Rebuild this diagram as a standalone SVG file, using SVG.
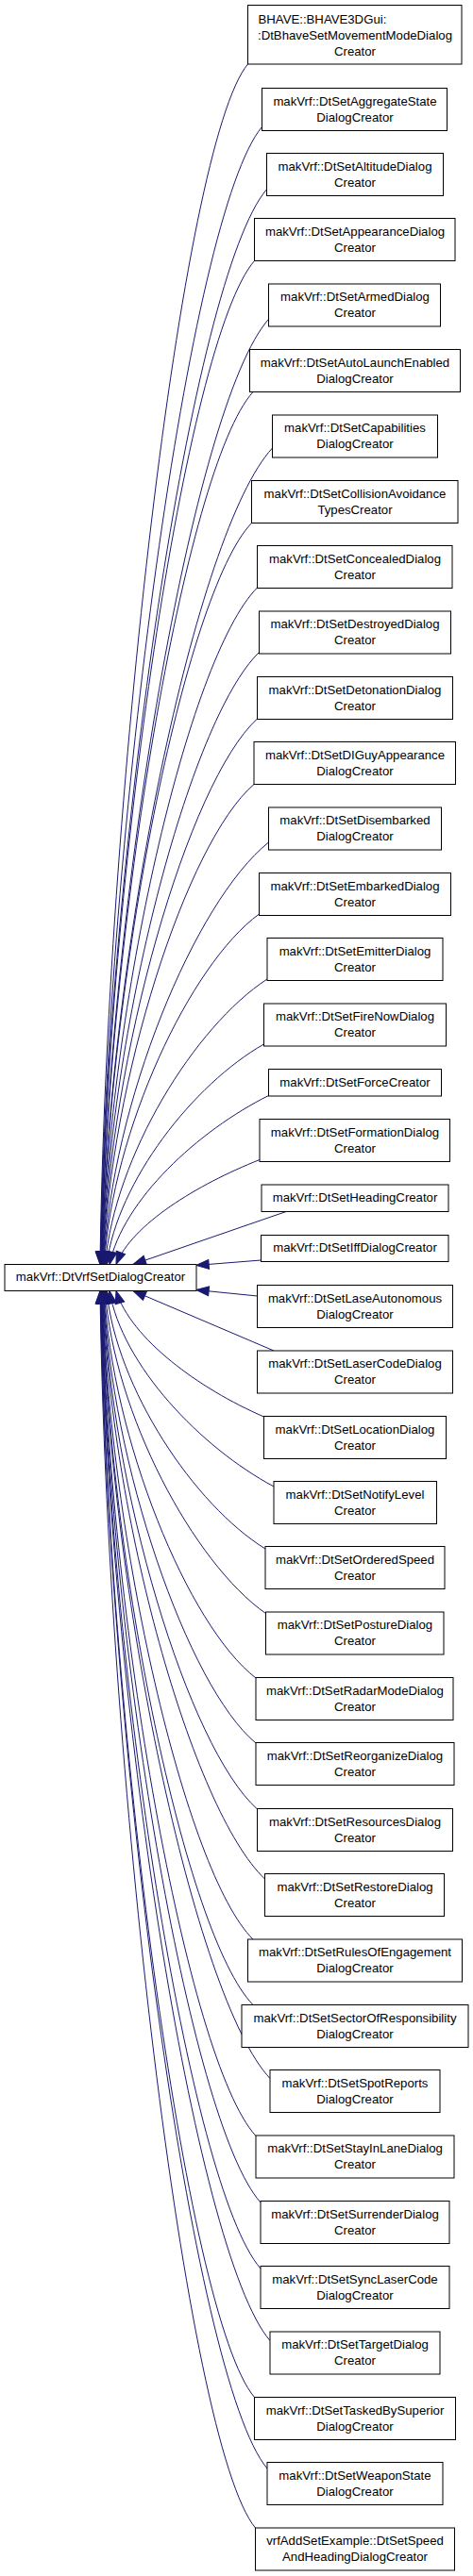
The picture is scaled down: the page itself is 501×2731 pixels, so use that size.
<svg xmlns="http://www.w3.org/2000/svg" width="501" height="2731" viewBox="0 0 501 2731">
<defs>
<style>
.node rect{fill:#ffffff;stroke:#000000;stroke-width:1}
.node text{font-family:"Liberation Sans",Arial,Helvetica,sans-serif;font-size:13.2px;text-anchor:middle;fill:#000000}
.node text.l{text-anchor:start}
.edges path{fill:none;stroke:#191970;stroke-width:1;marker-start:url(#arr)}
</style>
<marker id="arr" markerUnits="userSpaceOnUse" orient="auto" refX="0" refY="0" markerWidth="16" markerHeight="12" style="overflow:visible">
<path d="M0,0 L13.5,-5 L13.5,5 Z" fill="#191970" stroke="#191970" stroke-width="1"/>
</marker>
</defs>
<rect width="501" height="2731" fill="#ffffff"/>
<g id="connectors" class="edges">
<path d="M106,1340.5 C112.3,856.9 192.1,152.9 262.5,68"/>
<path d="M106.3,1340.5 C113.1,882.2 200.5,226.3 277.5,134.5"/>
<path d="M106.6,1340.5 C113.6,907.4 203.3,294.2 282.5,200.7"/>
<path d="M106.9,1340.5 C113.4,936.2 196.3,361.3 269.5,276.5"/>
<path d="M107.2,1340.5 C114.3,959.7 204.7,429.2 284.5,338.4"/>
<path d="M107.5,1340.5 C113.9,989 195.8,495.7 268,415.5"/>
<path d="M107.8,1340.5 C115,1011.6 207.2,563.5 288.5,475"/>
<path d="M108.1,1340.5 C114.4,1041.8 195.2,629.4 266.5,554.5"/>
<path d="M108.4,1340.5 C115.2,1067.8 198.7,697.9 272.5,623"/>
<path d="M108.7,1340.5 C115.7,1093.9 199.9,763.9 274.5,691.5"/>
<path d="M109.1,1340.5 C116.2,1120.7 199,829.6 272.5,762"/>
<path d="M109.5,1340.5 C116.7,1147.1 197.2,893.5 269,831.5"/>
<path d="M109.9,1340.5 C118.2,1170.4 205.9,956.4 284.5,893"/>
<path d="M110.4,1340.5 C119,1199.3 200.7,1023 274.5,969"/>
<path d="M111.3,1340.5 C121.6,1225.5 206,1088.4 283,1038"/>
<path d="M112.9,1340.5 C124.8,1251.8 205,1149.5 279.5,1107"/>
<path d="M116,1340.5 C130.2,1272.5 209.6,1198.9 284.5,1161.5"/>
<path d="M123,1340.5 C139.5,1298.3 208.3,1256 275,1229.5"/>
<path d="M141,1340.5 C195,1321.8 249,1303.2 303,1284.5"/>
<path d="M207.7,1341.5 L276.5,1336"/>
<path d="M207.7,1367.5 L272.5,1374"/>
<path d="M141,1368.5 C190.7,1389.7 240.3,1410.8 290,1432"/>
<path d="M123,1368.5 C138.5,1419.2 210.8,1472.3 279.5,1502"/>
<path d="M116,1368.5 C129.3,1447.4 212.6,1534.5 290,1576"/>
<path d="M112.9,1368.5 C123.6,1472.4 205.8,1595.4 281,1642"/>
<path d="M111.3,1368.5 C120.7,1498.5 205.1,1657 281.5,1710.5"/>
<path d="M110.4,1368.5 C118.4,1524.5 198.8,1723.2 271,1779"/>
<path d="M109.9,1368.5 C117.3,1550.7 198.5,1787.4 271,1848"/>
<path d="M109.5,1368.5 C116.7,1577.3 199.1,1852.2 272.5,1918"/>
<path d="M109.1,1368.5 C116.4,1605.4 203.4,1918.6 280.5,1992"/>
<path d="M108.7,1368.5 C115.3,1629.8 196.3,1984.8 268,2056"/>
<path d="M108.4,1368.5 C114.9,1656.2 196.2,2051.1 268,2125.5"/>
<path d="M108.1,1368.5 C115.2,1685.8 205.9,2117.6 286,2203.5"/>
<path d="M107.8,1368.5 C114.3,1709 197.6,2183.8 271,2264.5"/>
<path d="M107.5,1368.5 C114.2,1735.8 200.2,2249.6 276,2335"/>
<path d="M107.2,1368.5 C114,1762.4 200,2317.6 276,2405"/>
<path d="M106.9,1368.5 C114.1,1791.4 205.4,2387.1 286,2481.5"/>
<path d="M106.6,1368.5 C113.1,1814.2 196.2,2454.4 269.5,2541.5"/>
<path d="M106.3,1368.5 C113.4,1842.9 203.5,2521.6 283,2617"/>
<path d="M106,1368.5 C112.6,1866.9 196.5,2590.2 270.5,2680"/>
</g>
<g id="node-base" class="node"><rect x="5" y="1340.5" width="203" height="28"/><text x="106.5" y="1358">makVrf::DtVrfSetDialogCreator</text></g>
<g id="node-bhave" class="node"><rect x="262.5" y="5.5" width="226.5" height="62.5"/><text class="l" x="273.5" y="24.5">BHAVE::BHAVE3DGui:</text><text x="376" y="41.5">:DtBhaveSetMovementModeDialog</text><text x="376" y="58.5">Creator</text></g>
<g id="node-aggregate" class="node"><rect x="277.5" y="93.5" width="196" height="45"/><text x="376" y="111.5">makVrf::DtSetAggregateState</text><text x="376" y="128.5">DialogCreator</text></g>
<g id="node-altitude" class="node"><rect x="282.5" y="162.5" width="187" height="45"/><text x="376" y="180.5">makVrf::DtSetAltitudeDialog</text><text x="376" y="197.5">Creator</text></g>
<g id="node-appearance" class="node"><rect x="269.5" y="231.5" width="212.5" height="45"/><text x="376" y="249.5">makVrf::DtSetAppearanceDialog</text><text x="376" y="266.5">Creator</text></g>
<g id="node-armed" class="node"><rect x="284.5" y="301" width="182" height="45"/><text x="376" y="319">makVrf::DtSetArmedDialog</text><text x="376" y="336">Creator</text></g>
<g id="node-autolaunch" class="node"><rect x="264.5" y="370.5" width="223" height="45"/><text x="376" y="388.5">makVrf::DtSetAutoLaunchEnabled</text><text x="376" y="405.5">DialogCreator</text></g>
<g id="node-capabilities" class="node"><rect x="288.5" y="440" width="175" height="45"/><text x="376" y="458">makVrf::DtSetCapabilities</text><text x="376" y="475">DialogCreator</text></g>
<g id="node-collision" class="node"><rect x="266.5" y="509.5" width="218.5" height="45"/><text x="376" y="527.5">makVrf::DtSetCollisionAvoidance</text><text x="376" y="544.5">TypesCreator</text></g>
<g id="node-concealed" class="node"><rect x="272.5" y="578.5" width="206.5" height="45"/><text x="376" y="596.5">makVrf::DtSetConcealedDialog</text><text x="376" y="613.5">Creator</text></g>
<g id="node-destroyed" class="node"><rect x="274.5" y="648" width="203" height="45"/><text x="376" y="666">makVrf::DtSetDestroyedDialog</text><text x="376" y="683">Creator</text></g>
<g id="node-detonation" class="node"><rect x="272.5" y="717.5" width="207" height="45"/><text x="376" y="735.5">makVrf::DtSetDetonationDialog</text><text x="376" y="752.5">Creator</text></g>
<g id="node-diguy" class="node"><rect x="269" y="786.5" width="213.5" height="45"/><text x="376" y="804.5">makVrf::DtSetDIGuyAppearance</text><text x="376" y="821.5">DialogCreator</text></g>
<g id="node-disembarked" class="node"><rect x="284.5" y="856" width="183" height="45"/><text x="376" y="874">makVrf::DtSetDisembarked</text><text x="376" y="891">DialogCreator</text></g>
<g id="node-embarked" class="node"><rect x="274.5" y="925.5" width="203" height="45"/><text x="376" y="943.5">makVrf::DtSetEmbarkedDialog</text><text x="376" y="960.5">Creator</text></g>
<g id="node-emitter" class="node"><rect x="283" y="994.5" width="186" height="45"/><text x="376" y="1012.5">makVrf::DtSetEmitterDialog</text><text x="376" y="1029.5">Creator</text></g>
<g id="node-firenow" class="node"><rect x="279.5" y="1064" width="193" height="45"/><text x="376" y="1082">makVrf::DtSetFireNowDialog</text><text x="376" y="1099">Creator</text></g>
<g id="node-force" class="node"><rect x="284.5" y="1133.5" width="183" height="28.5"/><text x="376" y="1151.5">makVrf::DtSetForceCreator</text></g>
<g id="node-formation" class="node"><rect x="275" y="1186.5" width="201.5" height="45"/><text x="376" y="1204.5">makVrf::DtSetFormationDialog</text><text x="376" y="1221.5">Creator</text></g>
<g id="node-heading" class="node"><rect x="277" y="1256" width="198" height="28.5"/><text x="376" y="1274">makVrf::DtSetHeadingCreator</text></g>
<g id="node-iff" class="node"><rect x="276.5" y="1309.5" width="198.5" height="28"/><text x="376" y="1327.3">makVrf::DtSetIffDialogCreator</text></g>
<g id="node-laseautonomous" class="node"><rect x="272.5" y="1362.5" width="207" height="45"/><text x="376" y="1380.5">makVrf::DtSetLaseAutonomous</text><text x="376" y="1397.5">DialogCreator</text></g>
<g id="node-lasercode" class="node"><rect x="272.5" y="1432" width="207" height="45"/><text x="376" y="1450">makVrf::DtSetLaserCodeDialog</text><text x="376" y="1467">Creator</text></g>
<g id="node-location" class="node"><rect x="279.5" y="1501.5" width="193" height="45"/><text x="376" y="1519.5">makVrf::DtSetLocationDialog</text><text x="376" y="1536.5">Creator</text></g>
<g id="node-notifylevel" class="node"><rect x="290" y="1570.5" width="172.5" height="45"/><text x="376" y="1588.5">makVrf::DtSetNotifyLevel</text><text x="376" y="1605.5">Creator</text></g>
<g id="node-orderedspeed" class="node"><rect x="281" y="1639.5" width="190" height="45"/><text x="376" y="1657.5">makVrf::DtSetOrderedSpeed</text><text x="376" y="1674.5">Creator</text></g>
<g id="node-posture" class="node"><rect x="281.5" y="1709" width="188.5" height="45"/><text x="376" y="1727">makVrf::DtSetPostureDialog</text><text x="376" y="1744">Creator</text></g>
<g id="node-radarmode" class="node"><rect x="271" y="1778.5" width="209" height="45"/><text x="376" y="1796.5">makVrf::DtSetRadarModeDialog</text><text x="376" y="1813.5">Creator</text></g>
<g id="node-reorganize" class="node"><rect x="271" y="1847.5" width="210" height="45"/><text x="376" y="1865.5">makVrf::DtSetReorganizeDialog</text><text x="376" y="1882.5">Creator</text></g>
<g id="node-resources" class="node"><rect x="272.5" y="1917.5" width="207" height="45"/><text x="376" y="1935.5">makVrf::DtSetResourcesDialog</text><text x="376" y="1952.5">Creator</text></g>
<g id="node-restore" class="node"><rect x="280.5" y="1986.5" width="190" height="45"/><text x="376" y="2004.5">makVrf::DtSetRestoreDialog</text><text x="376" y="2021.5">Creator</text></g>
<g id="node-rules" class="node"><rect x="262.5" y="2056" width="227" height="45"/><text x="376" y="2074">makVrf::DtSetRulesOfEngagement</text><text x="376" y="2091">DialogCreator</text></g>
<g id="node-sector" class="node"><rect x="256" y="2125.5" width="240" height="45"/><text x="376" y="2143.5">makVrf::DtSetSectorOfResponsibility</text><text x="376" y="2160.5">DialogCreator</text></g>
<g id="node-spotreports" class="node"><rect x="286" y="2194.5" width="180" height="45"/><text x="376" y="2212.5">makVrf::DtSetSpotReports</text><text x="376" y="2229.5">DialogCreator</text></g>
<g id="node-stayinlane" class="node"><rect x="271" y="2264" width="210" height="45"/><text x="376" y="2282">makVrf::DtSetStayInLaneDialog</text><text x="376" y="2299">Creator</text></g>
<g id="node-surrender" class="node"><rect x="276" y="2333.5" width="200" height="45"/><text x="376" y="2351.5">makVrf::DtSetSurrenderDialog</text><text x="376" y="2368.5">Creator</text></g>
<g id="node-synclasercode" class="node"><rect x="276" y="2402.5" width="200" height="45"/><text x="376" y="2420.5">makVrf::DtSetSyncLaserCode</text><text x="376" y="2437.5">DialogCreator</text></g>
<g id="node-target" class="node"><rect x="286" y="2472" width="180" height="45"/><text x="376" y="2490">makVrf::DtSetTargetDialog</text><text x="376" y="2507">Creator</text></g>
<g id="node-taskedbysuperior" class="node"><rect x="269.5" y="2541.5" width="213" height="45"/><text x="376" y="2559.5">makVrf::DtSetTaskedBySuperior</text><text x="376" y="2576.5">DialogCreator</text></g>
<g id="node-weaponstate" class="node"><rect x="283" y="2610.5" width="186" height="45"/><text x="376" y="2628.5">makVrf::DtSetWeaponState</text><text x="376" y="2645.5">DialogCreator</text></g>
<g id="node-speedandheading" class="node"><rect x="270.5" y="2680" width="211" height="45"/><text x="376" y="2698">vrfAddSetExample::DtSetSpeed</text><text x="376" y="2715">AndHeadingDialogCreator</text></g>
</svg>
